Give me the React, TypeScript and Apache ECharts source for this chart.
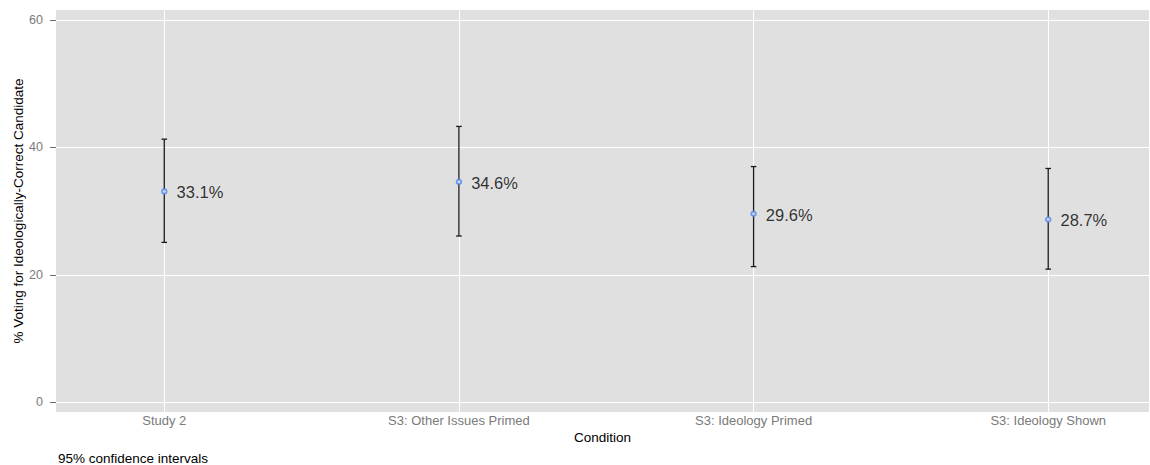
import React, { useEffect, useRef } from "react";
import * as echarts from "echarts";

// Share voting for the ideologically-correct candidate, by condition, with 95% CIs
const conditions = [
  "Study 2",
  "S3: Other Issues Primed",
  "S3: Ideology Primed",
  "S3: Ideology Shown",
];
const pctVoting = [33.1, 34.6, 29.6, 28.7];
const ciLower = [25.1, 26.1, 21.3, 20.9];
const ciUpper = [41.3, 43.3, 37.0, 36.7];
const yTicks = [0, 20, 40, 60];

const FONT = "'Liberation Sans', Arial, Helvetica, sans-serif";

export default function App() {
  const ref = useRef<HTMLDivElement>(null);

  useEffect(() => {
    if (!ref.current) return;
    const chart = echarts.init(ref.current, undefined, { renderer: "svg" });
    const xIdx = conditions.map((_, i) => i);

    chart.setOption({
      animation: false,
      backgroundColor: "#ffffff",
      textStyle: { fontFamily: FONT },
      grid: {
        left: 56,
        right: 1,
        top: 10,
        bottom: 53,
        containLabel: false,
        outerBoundsMode: "none",
        show: true,
        backgroundColor: "#E0E0E0",
        borderWidth: 0,
      },
      xAxis: {
        type: "value",
        min: -0.3675,
        max: 3.342,
        name: "Condition",
        nameLocation: "middle",
        nameGap: 18,
        nameMoveOverlap: false,
        nameTextStyle: { color: "#000000", fontSize: 13.5, fontFamily: FONT },
        axisLine: { show: false, onZero: false },
        axisTick: { show: false, customValues: xIdx },
        axisLabel: {
          customValues: xIdx,
          formatter: (v: number) => conditions[Math.round(v)] ?? "",
          color: "#7a7a7a",
          fontSize: 13,
          margin: 2,
          fontFamily: FONT,
        },
        splitLine: { show: true, lineStyle: { color: "#ffffff", width: 1 } },
      },
      yAxis: {
        type: "value",
        min: -1.52,
        max: 61.57,
        name: "% Voting for Ideologically-Correct Candidate",
        nameLocation: "middle",
        nameGap: 31,
        nameMoveOverlap: false,
        nameTextStyle: { color: "#000000", fontSize: 13.5, fontFamily: FONT },
        axisLine: { show: false, onZero: false },
        axisTick: {
          show: true,
          customValues: yTicks,
          length: 6,
          lineStyle: { color: "#6a6a6a", width: 1 },
        },
        axisLabel: {
          customValues: yTicks,
          color: "#7a7a7a",
          fontSize: 12.5,
          margin: 13,
          fontFamily: FONT,
        },
        splitLine: { show: true, lineStyle: { color: "#ffffff", width: 1 } },
      },
      series: [
        {
          type: "custom",
          z: 2,
          silent: true,
          encode: { x: 0, y: [1, 2] },
          data: xIdx.map((i) => [i, ciLower[i], ciUpper[i]]),
          renderItem: (_params: any, api: any) => {
            const x = api.value(0);
            const top = api.coord([x, api.value(2)]);
            const bot = api.coord([x, api.value(1)]);
            const hw = 2.8;
            const style = { stroke: "#1a1a1a", lineWidth: 1.3 };
            return {
              type: "group",
              children: [
                { type: "line", shape: { x1: top[0], y1: top[1], x2: bot[0], y2: bot[1] }, style },
                { type: "line", shape: { x1: top[0] - hw, y1: top[1], x2: top[0] + hw, y2: top[1] }, style },
                { type: "line", shape: { x1: bot[0] - hw, y1: bot[1], x2: bot[0] + hw, y2: bot[1] }, style },
              ],
            };
          },
        },
        {
          type: "scatter",
          z: 3,
          silent: true,
          symbol: "emptyCircle",
          symbolSize: 4.5,
          itemStyle: { color: "#4f86ec", borderWidth: 1.1 },
          data: xIdx.map((i) => [i, pctVoting[i]]),
          label: {
            show: true,
            position: "right",
            distance: 9,
            offset: [0, 1],
            formatter: (p: any) => `${p.value[1].toFixed(1)}%`,
            color: "#000000",
            fontSize: 16.5,
            fontFamily: FONT,
          },
        },
      ],
      graphic: [
        {
          type: "text",
          left: 58,
          top: 451,
          style: {
            text: "95% confidence intervals",
            fill: "#000000",
            fontSize: 13.5,
            fontFamily: FONT,
          },
        },
      ],
    });

    return () => chart.dispose();
  }, []);

  return (
    <div
      ref={ref}
      style={{ position: "fixed", left: 0, top: 0, width: 1150, height: 465 }}
    />
  );
}
